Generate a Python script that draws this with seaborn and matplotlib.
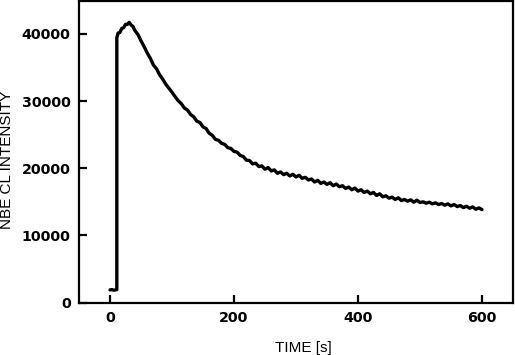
import matplotlib
matplotlib.use("Agg")
import matplotlib.pyplot as plt
import seaborn as sns
import pandas as pd

# ── data ──────────────────────────────────────────────────────
# rise: baseline, jump and peak
rise_time = [0, 3, 6, 9, 11, 11, 13, 16, 19, 22, 25, 28, 31, 34, 37, 40]
rise_int = [1900, 1950, 1850, 1900, 1950, 39400, 40100, 40200, 40800, 40900,
            41400, 41400, 41700, 41300, 41100, 40500]

# decay, every 5 s from 45 to 600
decay_time = [45, 50, 55, 60, 65, 70, 75, 80,
              85, 90, 95, 100, 105, 110, 115, 120,
              125, 130, 135, 140, 145, 150, 155, 160,
              165, 170, 175, 180, 185, 190, 195, 200,
              205, 210, 215, 220, 225, 230, 235, 240,
              245, 250, 255, 260, 265, 270, 275, 280,
              285, 290, 295, 300, 305, 310, 315, 320,
              325, 330, 335, 340, 345, 350, 355, 360,
              365, 370, 375, 380, 385, 390, 395, 400,
              405, 410, 415, 420, 425, 430, 435, 440,
              445, 450, 455, 460, 465, 470, 475, 480,
              485, 490, 495, 500, 505, 510, 515, 520,
              525, 530, 535, 540, 545, 550, 555, 560,
              565, 570, 575, 580, 585, 590, 595, 600]
decay_int = [39900, 38950, 38100, 37150, 36350, 35350, 34800, 33900,
             33250, 32500, 31900, 31300, 30650, 30050, 29600, 28950,
             28650, 28000, 27650, 27000, 26800, 26150, 25900, 25200,
             24900, 24300, 24150, 23700, 23550, 23050, 22950, 22500,
             22400, 21900, 21750, 21200, 21150, 20650, 20750, 20250,
             20350, 19850, 20100, 19600, 19750, 19250, 19450, 19050,
             19250, 18850, 19100, 18700, 18950, 18500, 18650, 18250,
             18400, 17950, 18200, 17750, 17950, 17600, 17850, 17400,
             17650, 17250, 17400, 17000, 17200, 16800, 17050, 16600,
             16800, 16400, 16600, 16200, 16400, 15950, 16200, 15750,
             15900, 15550, 15700, 15350, 15600, 15200, 15350, 15100,
             15300, 14950, 15250, 14900, 15000, 14800, 14950, 14700,
             14850, 14600, 14750, 14500, 14700, 14400, 14600, 14300,
             14450, 14150, 14350, 14050, 14250, 13900, 14100, 13850]

df = pd.DataFrame({"time": rise_time + decay_time,
                   "nbe": rise_int + decay_int})

sns.set_style("ticks")
plt.rcParams["font.family"] = ["Liberation Sans", "DejaVu Sans"]

fig = plt.figure(figsize=(5.15, 3.55), dpi=100)
ax = fig.add_axes([0.1534, 0.1473, 0.8427, 0.8485])

sns.lineplot(data=df, x="time", y="nbe", estimator=None, sort=False,
             color="black", linewidth=2.4, ax=ax)

ax.set_xlim(-50, 650)
ax.set_ylim(0, 44800)
ax.set_xticks([0, 200, 400, 600])
ax.set_yticks([0, 10000, 20000, 30000, 40000])

for side in ["left", "bottom", "right", "top"]:
    ax.spines[side].set_visible(True)
    ax.spines[side].set_linewidth(1.6)
    ax.spines[side].set_color("black")

ax.tick_params(direction="in", length=6, width=1.6, pad=6, colors="black")
for lbl in ax.get_xticklabels() + ax.get_yticklabels():
    lbl.set_family("DejaVu Sans")
    lbl.set_fontweight("bold")
    lbl.set_fontsize(10.3)

ax.set_xlabel("TIME [s]", fontsize=11, color="black")
ax.set_ylabel("NBE CL INTENSITY", fontsize=11, color="black")
ax.xaxis.set_label_coords(0.516, -0.126)
ax.yaxis.set_label_coords(-0.150, 0.474)

fig.savefig("out.png", dpi=100)
